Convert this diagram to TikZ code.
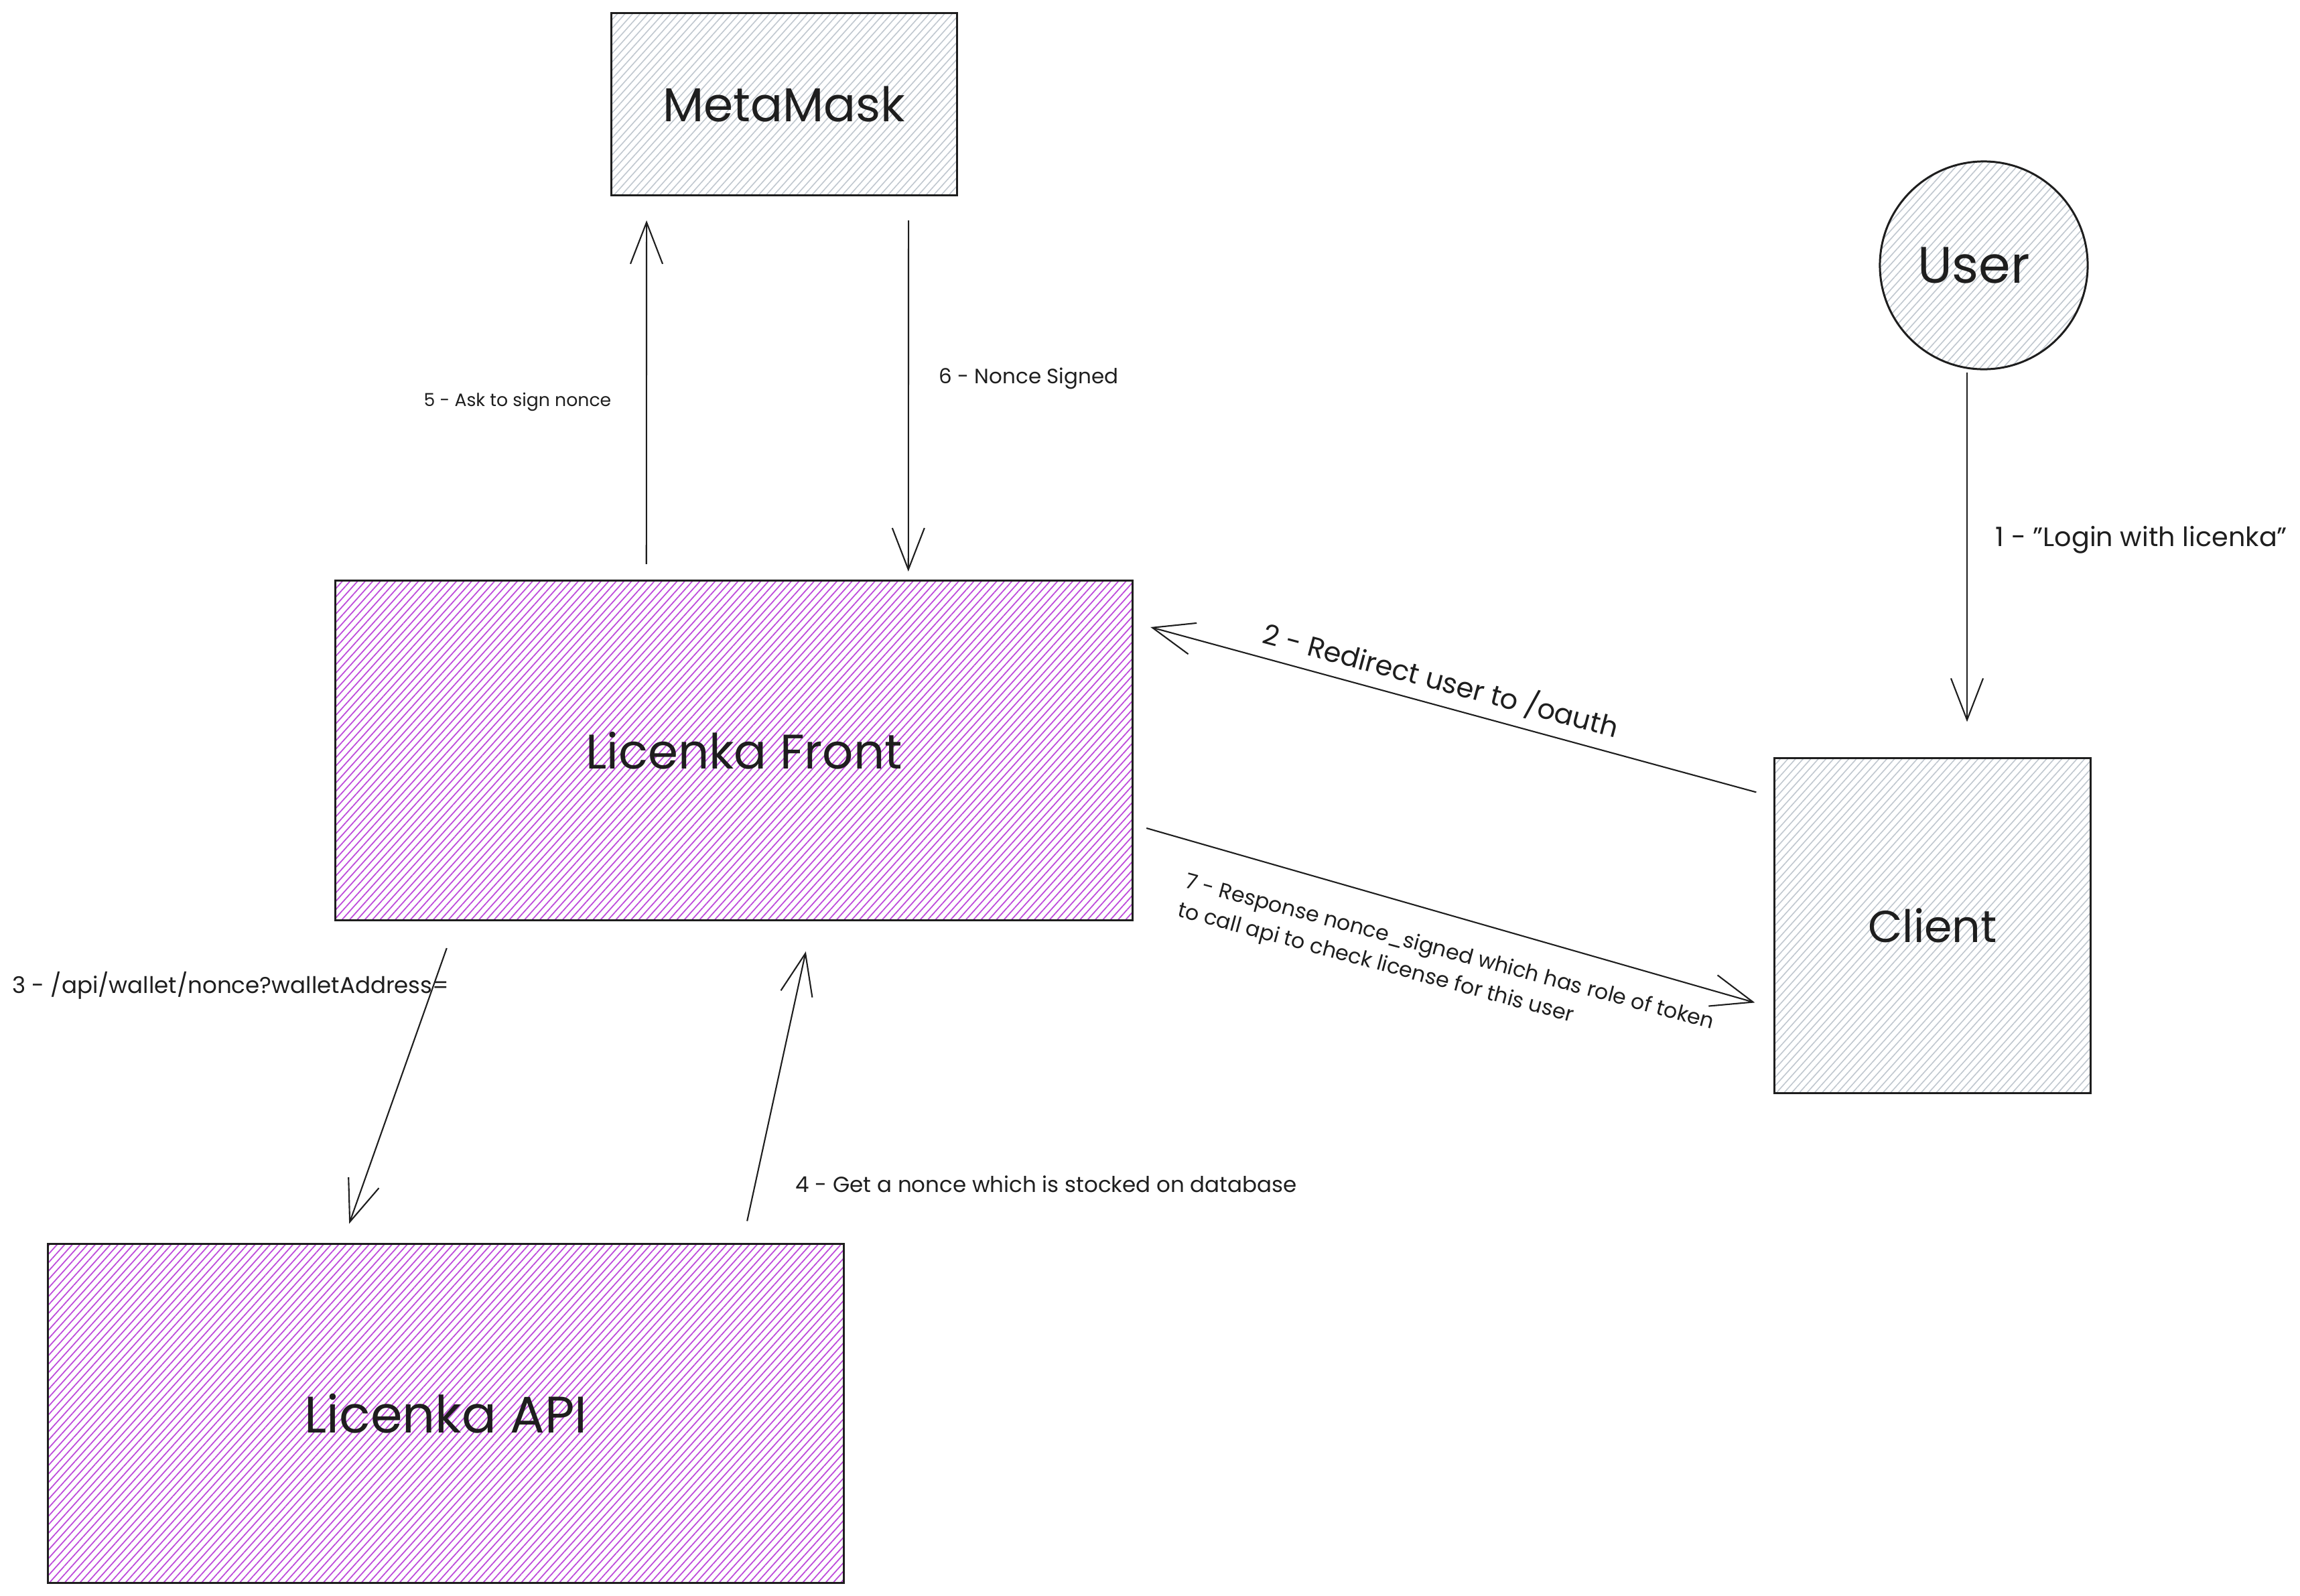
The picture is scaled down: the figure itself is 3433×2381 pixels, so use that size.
\documentclass[tikz,border=0pt]{standalone}
\usepackage{fontspec}
\setmainfont{Poppins}
\usetikzlibrary{arrows.meta,patterns.meta}
\definecolor{grape}{HTML}{BE4BDB}
\definecolor{hgray}{HTML}{C0C7CF}
\definecolor{ink}{HTML}{1E1E1E}
\begin{document}
\begin{tikzpicture}[x=0.01cm,y=-0.01cm,
  box/.style={draw=ink,line width=0.85pt,rectangle,inner sep=0pt,text=ink},
  grayfill/.style={pattern={Lines[angle=48,distance=2.4pt,line width=0.45pt]},pattern color=hgray},
  purplefill/.style={pattern={Lines[angle=48,distance=2.4pt,line width=0.5pt]},pattern color=grape},
  arr/.style={draw=ink,line width=0.6pt,-{Straight Barb[length=0.62cm,width=0.48cm]}},
  big/.style={font=\fontsize{21}{25}\selectfont},
  lbl/.style={font=\fontsize{10}{12}\selectfont,inner sep=0pt,text=ink}
]
\fill[white] (0,0) rectangle (3433,2381);
\useasboundingbox (0,0) rectangle (3433,2381);

% nodes
\node[box,grayfill,big,font=\fontsize{20.2}{24}\selectfont,minimum width=5.15cm,minimum height=2.71cm] (meta) at (1170.5,155.5) {MetaMask};
\node[box,grayfill,big,font=\fontsize{21.8}{26}\selectfont,circle,minimum size=3.1cm] (user) at (2961,396) {\hspace*{-0.3cm}User};
\node[box,purplefill,big,font=\fontsize{20.6}{25}\selectfont,minimum width=11.89cm,minimum height=5.06cm] (front) at (1095.5,1120) {\hspace*{0.3cm}Licenka Front};
\node[box,grayfill,big,font=\fontsize{19}{23}\selectfont,minimum width=4.71cm,minimum height=4.99cm] (client) at (2884.5,1381.5) {Client};
\node[box,purplefill,big,font=\fontsize{21.8}{26}\selectfont,minimum width=11.87cm,minimum height=5.05cm] (api) at (665.5,2109.5) {Licenka API};

% connectors
\draw[arr] ([shift={(-25,3)}]user.south) -- ([shift={(51.5,-53)}]client.north);
\draw[arr] ([shift={(-26,52)}]client.north west) -- ([shift={(26,70)}]front.north east);
\draw[arr] ([shift={(167,41)}]front.south west) -- ([shift={(451,-29)}]api.north west);
\draw[arr] ([shift={(1045,-33)}]api.north west) -- ([shift={(703,46)}]front.south west);
\draw[arr] ([shift={(465,-24)}]front.north west) -- ([shift={(53,37)}]meta.south west);
\draw[arr] ([shift={(444,37)}]meta.south west) -- ([shift={(856,-13)}]front.north west);
\draw[arr] ([shift={(20,370)}]front.north east) -- ([shift={(-28,366)}]client.north west);

% labels
\node[lbl,anchor=west,font=\fontsize{11.3}{13}\selectfont] (l1) at (2978,806) {1 - "Login with licenka"};
\node[lbl,rotate=-15,font=\fontsize{11.8}{14}\selectfont] (l2) at (2151,1015) {2 - Redirect user to /oauth};
\node[lbl,anchor=west,font=\fontsize{9.7}{12}\selectfont] (l3) at (18,1471) {3 - /api/wallet/nonce?walletAddress=};
\node[lbl,anchor=west,font=\fontsize{9.25}{12}\selectfont] (l4) at (1187,1767) {4 - Get a nonce which is stocked on database};
\node[lbl,anchor=east,font=\fontsize{7.6}{10}\selectfont] (l5) at (913,600) {5 - Ask to sign nonce};
\node[lbl,anchor=west,font=\fontsize{8.8}{10}\selectfont] (l6) at (1401,565) {6 - Nonce Signed};
\node[lbl,rotate=-15,align=left,font=\fontsize{9}{12.5}\selectfont] (l7) at (2158,1444) {7 - Response nonce\_signed which has role of token\\to call api to check license for this user};
\end{tikzpicture}
\end{document}
